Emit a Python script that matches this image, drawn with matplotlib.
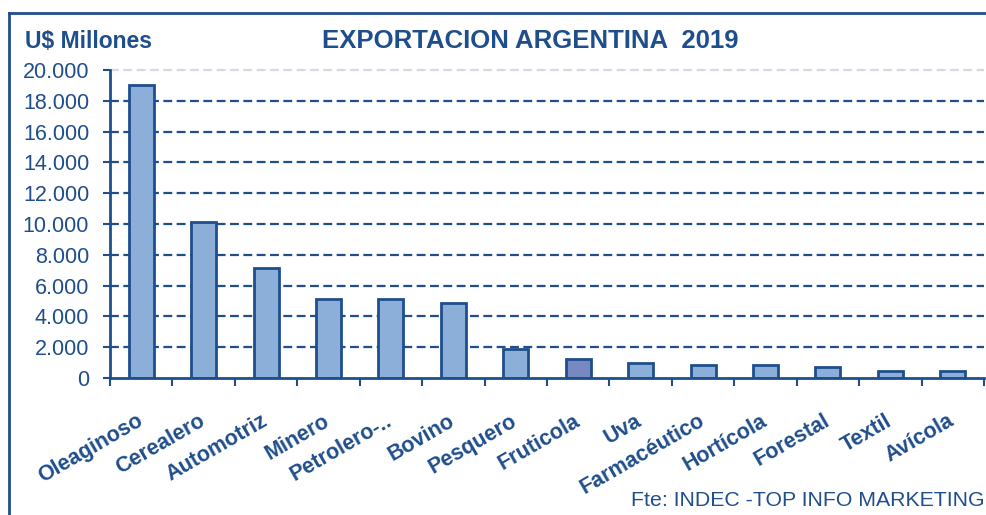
import matplotlib
matplotlib.use("Agg")
import matplotlib.pyplot as plt
from matplotlib.lines import Line2D
import numpy as np

categories = ["Oleaginoso", "Cerealero", "Automotriz", "Minero", "Petrolero-..",
              "Bovino", "Pesquero", "Fruticola", "Uva", "Farmacéutico",
              "Hortícola", "Forestal", "Textil", "Avícola"]
values = [19000, 10100, 7150, 5110, 5100, 4870, 1880, 1230, 1000, 840, 840, 740, 470, 470]
highlight = "Fruticola"
yticks = [0, 2000, 4000, 6000, 8000, 10000, 12000, 14000, 16000, 18000, 20000]
ytick_labels = ["0", "2.000", "4.000", "6.000", "8.000", "10.000", "12.000",
                "14.000", "16.000", "18.000", "20.000"]

plt.rcParams['font.family'] = ['Liberation Sans', 'DejaVu Sans']
DARK = "#1F4E8C"
BAR = "#8BAFD9"
BAR_HI = "#7788C2"

fig = plt.figure(figsize=(9.87, 5.15), dpi=100)
W, H = 987, 515
ax = fig.add_axes([110 / W, 1 - 378 / H, (984 - 110) / W, (378 - 70) / H])

x = np.arange(len(categories))
colors = [BAR_HI if c == highlight else BAR for c in categories]
ax.bar(x, values, width=0.4, color=colors, edgecolor=DARK, linewidth=2, zorder=3)

ax.set_xlim(-0.5, len(categories) - 0.5)
ax.set_ylim(0, 20000)

for yv in yticks[1:-1]:
    ax.axhline(yv, color=DARK, linestyle=(0, (4, 2)), linewidth=1.6, zorder=2)
ax.axhline(yticks[-1], color="#D3DAE4", linestyle=(0, (4, 2)), linewidth=1.6, zorder=2, clip_on=False)

ax.set_yticks(yticks)
ax.set_yticklabels(ytick_labels, fontsize=15.5, color=DARK)
ax.tick_params(axis='y', direction='out', length=5, width=1.5, color=DARK, pad=10)

ax.set_xticks(x)
ax.set_xticklabels(categories, rotation=30, ha='right', va='center', rotation_mode='anchor',
                   fontsize=15.5, fontweight='bold', color=DARK)
ax.tick_params(axis='x', which='major', length=0, pad=30)
ax.set_xticks(np.arange(-0.5, len(categories)), minor=True)
ax.tick_params(axis='x', which='minor', direction='out', length=6, width=1.5, color=DARK)

for s in ['top', 'right']:
    ax.spines[s].set_visible(False)
for s in ['left', 'bottom']:
    ax.spines[s].set_color(DARK)
    ax.spines[s].set_linewidth(2)
    ax.spines[s].set_zorder(4)

fig.text(530 / W, 1 - 41 / H, "EXPORTACION ARGENTINA  2019", ha='center', va='center',
         fontsize=18.5, fontweight='bold', color=DARK)
fig.text(25 / W, 1 - 42 / H, "U$ Millones", ha='left', va='center',
         fontsize=16.5, fontweight='bold', color=DARK)
fig.text(985 / W, 1 - 500 / H, "Fte: INDEC -TOP INFO MARKETING", ha='right', va='center',
         fontsize=15.3, color=DARK)

fig.add_artist(Line2D([9 / W, 9 / W], [0, 1 - 13 / H], transform=fig.transFigure,
                      color=DARK, linewidth=2))
fig.add_artist(Line2D([9 / W, 1], [1 - 13 / H, 1 - 13 / H], transform=fig.transFigure,
                      color=DARK, linewidth=2))

fig.savefig("out.png", dpi=100)
